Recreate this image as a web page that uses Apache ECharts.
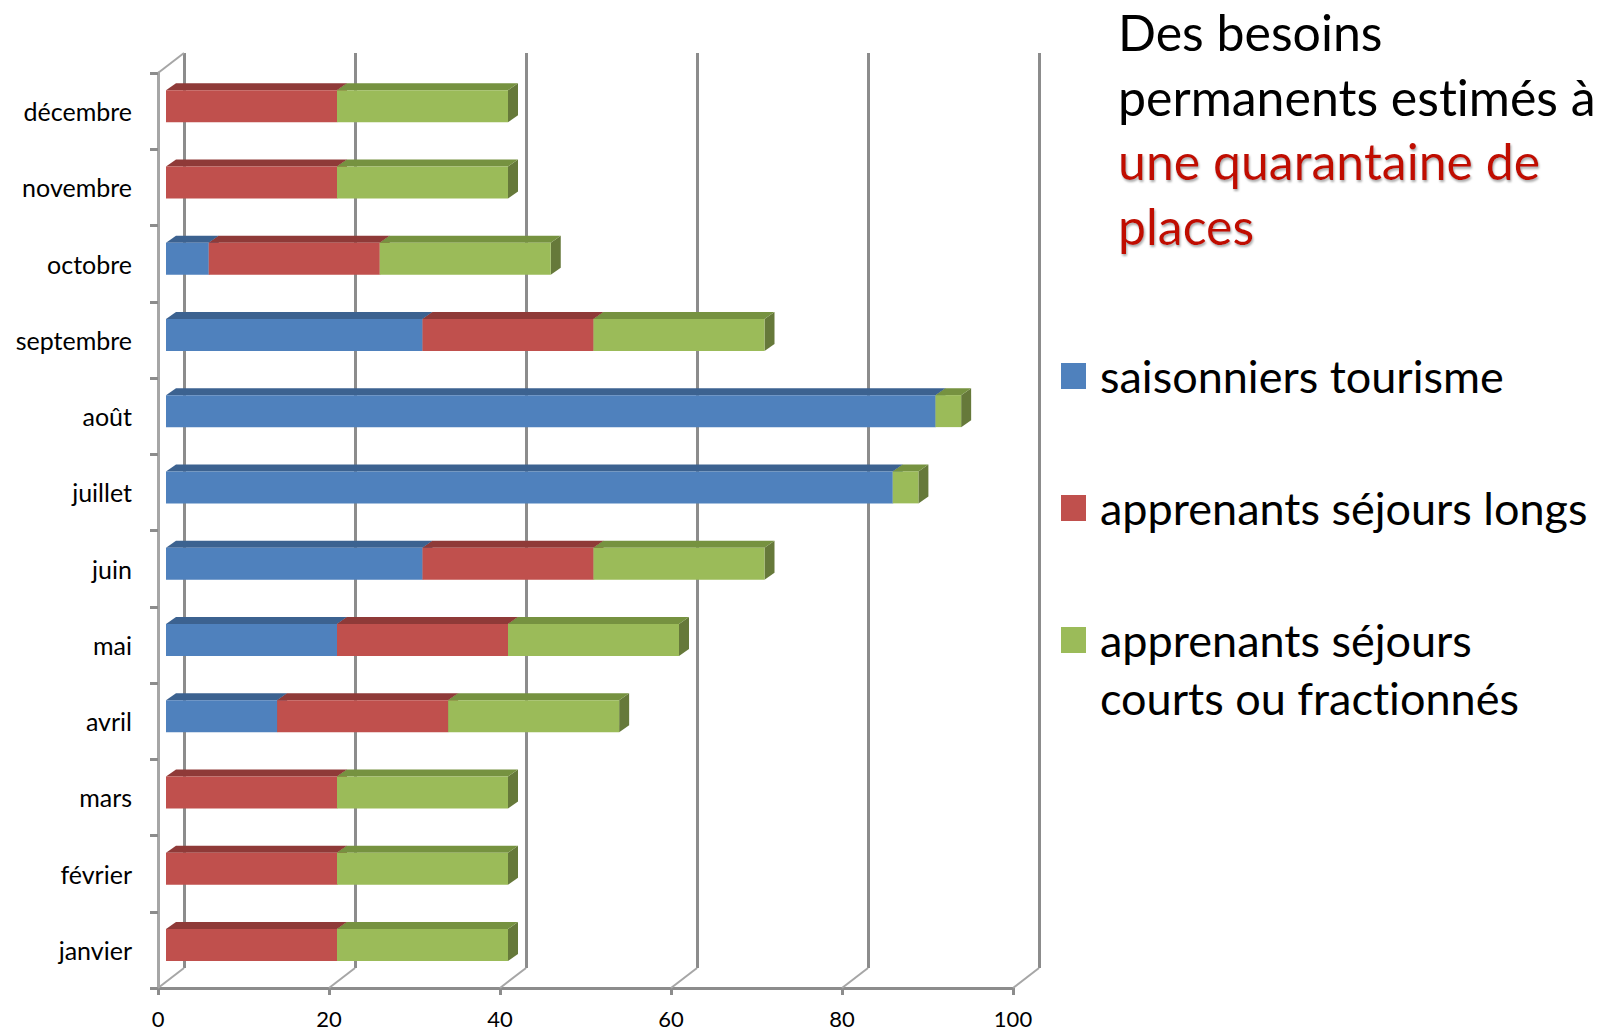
<html lang="fr">
<head>
    <meta charset="UTF-8">
    <title>Besoins permanents</title>
    <script type="text/javascript" src="https://cdn.jsdelivr.net/npm/echarts@6/dist/echarts.min.js"></script>
</head>
<style>
    html, body { margin: 0; padding: 0; background: #fff; }
    #container { width: 1604px; height: 1032px; }
    #container text { font-variant-ligatures: none; }
</style>
<body>
<div id="container"></div>
<script>
    var months = ['janvier', 'février', 'mars', 'avril', 'mai', 'juin', 'juillet', 'août', 'septembre', 'octobre', 'novembre', 'décembre'];
    var tourisme = [0, 0, 0, 13, 20, 30, 85, 90, 30, 5, 0, 0];
    var sejoursLongs = [20, 20, 20, 20, 20, 20, 0, 0, 20, 20, 20, 20];
    var sejoursCourts = [20, 20, 20, 20, 20, 20, 3, 3, 20, 20, 20, 20];
    var axisTicks = [0, 20, 40, 60, 80, 100];

    var seriesNames = ['saisonniers tourisme', 'apprenants séjours longs', 'apprenants séjours courts ou fractionnés'];
    var seriesValues = [tourisme, sejoursLongs, sejoursCourts];
    var frontColors = ['#4f81bd', '#c0504d', '#9bbb59'];
    var topColors = ['#3c6290', '#8f3a38', '#769240'];
    var sideColors = ['#3a5c87', '#86322f', '#66793a'];

    var chart = echarts.init(document.getElementById('container'), null, {renderer: 'svg'});

    // empiler les valeurs : [debut, fin, mois]
    function stackSegments(index)
    {
        var segments = [];
        months.forEach(function (m, i)
        {
            var start = 0;
            for (var s = 0; s < index; s++)
            {
                start += seriesValues[s][i];
            }
            if (seriesValues[index][i] > 0)
            {
                segments.push([start, start + seriesValues[index][i], i]);
            }
        });
        return segments;
    }

    // barre 3D : face avant, dessus, cote droit
    function renderBar(index)
    {
        return function (params, api)
        {
            var a = api.coord([api.value(0), api.value(2)]);
            var b = api.coord([api.value(1), api.value(2)]);
            var x0 = a[0] + 8, x1 = b[0] + 8;
            var y0 = a[1] - 21, y1 = a[1] + 11;
            var dx = 10, dy = -7;
            return {
                type: 'group',
                children: [
                    {type: 'polygon', shape: {points: [[x1, y0], [x1 + dx, y0 + dy], [x1 + dx, y1 + dy], [x1, y1]]}, style: {fill: sideColors[index]}},
                    {type: 'polygon', shape: {points: [[x0, y0], [x1, y0], [x1 + dx, y0 + dy], [x0 + dx, y0 + dy]]}, style: {fill: topColors[index]}},
                    {type: 'rect', shape: {x: x0, y: y0, width: x1 - x0, height: y1 - y0}, style: {fill: frontColors[index]}}
                ]
            };
        };
    }

    // petites diagonales du plancher et du mur
    function renderDepth(params, api)
    {
        var rect = params.coordSys;
        var p = api.coord([api.value(0), 0]);
        var bottom = rect.y + rect.height;
        var lines = [{type: 'line', shape: {x1: p[0], y1: bottom, x2: p[0] + 26, y2: bottom - 20}, style: {stroke: '#a6a6a6', lineWidth: 2}}];
        if (params.dataIndex === 0)
        {
            lines.push({type: 'line', shape: {x1: p[0], y1: rect.y, x2: p[0] + 26, y2: rect.y - 20}, style: {stroke: '#a6a6a6', lineWidth: 2}});
        }
        return {type: 'group', children: lines};
    }

    var series = [
        {
            type: 'custom',
            name: 'profondeur',
            xAxisIndex: 0,
            yAxisIndex: 0,
            z: 1,
            silent: true,
            renderItem: renderDepth,
            data: axisTicks.map(function (v) { return [v]; })
        }
    ];
    seriesNames.forEach(function (name, i)
    {
        series.push({
            type: 'custom',
            name: name,
            xAxisIndex: 0,
            yAxisIndex: 0,
            z: 3 + i,
            itemStyle: {color: frontColors[i]},
            encode: {x: [0, 1], y: 2},
            renderItem: renderBar(i),
            data: stackSegments(i)
        });
    });

    var legendFont = {fontFamily: 'Lato', fontSize: 45, color: '#000', lineHeight: 58, padding: [0, 0, 0, 9]};

    var option = {
        animation: false,
        backgroundColor: '#fff',
        title: {
            left: 1113,
            top: -5,
            text: '{a|Des besoins}\n{a|permanents estimés à}\n{b|une quarantaine de}\n{b|places}',
            textStyle: {
                rich: {
                    a: {fontFamily: 'Lato', fontSize: 50, fontWeight: 'normal', lineHeight: 64.5, color: '#000'},
                    b: {
                        fontFamily: 'Lato', fontSize: 50, fontWeight: 'normal', lineHeight: 64.5, color: '#c00e00',
                        textShadowColor: '#aaa', textShadowBlur: 2, textShadowOffsetX: 1, textShadowOffsetY: 2
                    }
                }
            }
        },
        legend: [
            {
                left: 1061, top: 347, padding: 0, orient: 'vertical', icon: 'rect', itemWidth: 25, itemHeight: 26,
                selectedMode: false, data: [seriesNames[0]], textStyle: legendFont
            },
            {
                left: 1061, top: 479, padding: 0, orient: 'vertical', icon: 'rect', itemWidth: 25, itemHeight: 26,
                selectedMode: false, data: [seriesNames[1]], textStyle: legendFont
            },
            {
                left: 1061, top: 553, padding: 0, orient: 'vertical', icon: 'rect', itemWidth: 25, itemHeight: 26,
                selectedMode: false, data: [seriesNames[2]], textStyle: legendFont,
                formatter: function () { return '\napprenants séjours\ncourts ou fractionnés'; }
            }
        ],
        grid: [
            {left: 158, top: 73, width: 855, height: 915, outerBoundsMode: 'none'},
            {left: 184, top: 53, width: 855, height: 915, outerBoundsMode: 'none'}
        ],
        xAxis: [
            {
                type: 'value', gridIndex: 0, min: 0, max: 100, interval: 20,
                axisLine: {show: true, lineStyle: {color: '#8c8c8c', width: 3}},
                axisTick: {show: true, length: 7, lineStyle: {color: '#8c8c8c', width: 3}},
                axisLabel: {color: '#000', fontFamily: 'Lato', fontSize: 22, lineHeight: 18, margin: 21},
                splitLine: {show: false}
            },
            {
                type: 'value', gridIndex: 1, min: 0, max: 100, interval: 20,
                axisLine: {show: false}, axisTick: {show: false}, axisLabel: {show: false},
                splitLine: {show: true, lineStyle: {color: '#8c8c8c', width: 3}}
            }
        ],
        yAxis: [
            {
                type: 'category', gridIndex: 0, data: months,
                axisLine: {show: true, lineStyle: {color: '#a6a6a6', width: 3}},
                axisTick: {show: true, alignWithLabel: false, length: 8, lineStyle: {color: '#8c8c8c', width: 3}},
                axisLabel: {color: '#000', fontFamily: 'Lato', fontSize: 25, margin: 26, padding: [4, 0, 0, 0]},
                splitLine: {show: false}
            },
            {
                type: 'category', gridIndex: 1, data: months, show: false
            }
        ],
        series: series
    };

    chart.setOption(option);
</script>
</body>
</html>
